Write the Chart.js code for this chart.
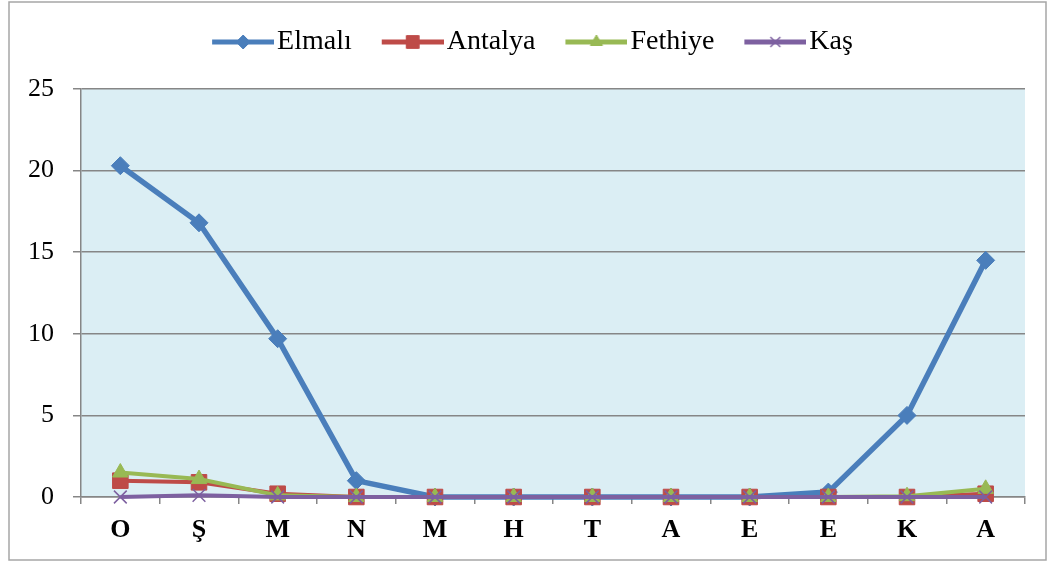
<!DOCTYPE html>
<html>
<head>
<meta charset="utf-8">
<script src="https://cdn.jsdelivr.net/npm/chart.js@4"></script>
<style>
  html, body { margin: 0; padding: 0; background: #fff; }
  #wrap { width: 1052px; height: 563px; position: relative; }
</style>
</head>
<body>
<div id="wrap"><canvas id="grafico" width="1052" height="563"></canvas></div>
<script>
// aylar (baş harfleri)
const aylar = ['O', 'Ş', 'M', 'N', 'M', 'H', 'T', 'A', 'E', 'E', 'K', 'A'];
const elmali = [20.3, 16.8, 9.7, 1.0, 0, 0, 0, 0, 0, 0.3, 5.0, 14.5];
const antalya = [1.0, 0.9, 0.2, 0, 0, 0, 0, 0, 0, 0, 0, 0.2];
const fethiye = [1.5, 1.1, 0.1, 0, 0, 0, 0, 0, 0, 0, 0.05, 0.5];
const kas = [0, 0.1, 0, 0, 0, 0, 0, 0, 0, 0, 0, 0];
const yTicks = [0, 5, 10, 15, 20, 25];

const serif = "'Liberation Serif', 'Times New Roman', serif";

// legend icon: line + marker like excel. left 11px of the image is empty so the
// line starts at the item x and the text sits right after it
function legendIcon(color, style, r) {
	const c = document.createElement('canvas');
	c.width = 73; c.height = 22;
	const ctx = c.getContext('2d');
	ctx.strokeStyle = color;
	ctx.lineWidth = 5;
	ctx.beginPath(); ctx.moveTo(11, 11); ctx.lineTo(73, 11); ctx.stroke();
	ctx.fillStyle = color;
	ctx.lineWidth = style == 'crossRot' ? 1.5 : 1;
	Chart.helpers.drawPoint(ctx, { pointStyle: style, radius: r, borderWidth: ctx.lineWidth, rotation: 0 }, 42, 11);
	return c;
}

// fundo azul da area do grafico + moldura
const fundo = {
	id: 'fundo',
	beforeUpdate(chart) {
		// legenda com altura fixa, assim o grafico começa em y=89
		const lg = chart.legend;
		if (lg && !lg._fixado) {
			const orig = lg.fit;
			lg.fit = function () { orig.call(this); this.height = 89; };
			lg._fixado = true;
		}
	},
	afterLayout(chart) {
		const lg = chart.legend;
		if (!lg) return;
		lg.top = -2;
		lg.left += 20;
		lg.right += 20;
	},
	beforeDraw(chart) {
		const { ctx, chartArea: a } = chart;
		ctx.save();
		ctx.fillStyle = '#DBEEF4';
		ctx.fillRect(a.left, a.top, a.right - a.left, a.bottom - a.top);
		ctx.strokeStyle = '#A6A6A6';
		ctx.lineWidth = 1.5;
		ctx.strokeRect(9, 2, 1037, 558);
		ctx.restore();
	}
};

function serie(label, data, color, style, r, ordem, lw) {
	return {
		label: label,
		data: data,
		borderColor: color,
		backgroundColor: color,
		borderWidth: lw,
		pointStyle: style,
		pointRadius: r,
		pointHoverRadius: r,
		pointBorderWidth: style == 'crossRot' ? 1.5 : 1,
		tension: 0,
		clip: false,
		order: ordem,
		icon: legendIcon(color, style, style == 'rect' ? 9 : 7)
	};
}

const grafico = document.getElementById('grafico').getContext('2d');
const myChart = new Chart(grafico, {
	type: 'line',
	data: {
		labels: aylar,
		datasets: [
			serie('Elmalı', elmali, '#4A7EBB', 'rectRot', 9, 4, 5.5),
			serie('Antalya', antalya, '#BE4B48', 'rect', 11, 3, 4),
			serie('Fethiye', fethiye, '#98B954', 'triangle', 9, 2, 4),
			serie('Kaş', kas, '#7D60A0', 'crossRot', 9, 1, 4)
		]
	},
	options: {
		responsive: false,
		animation: false,
		layout: { padding: { top: 0, right: 27, left: 0, bottom: 0 } },
		plugins: {
			tooltip: { enabled: false },
			legend: {
				labels: {
					usePointStyle: true,
					boxWidth: 51,
					boxHeight: 22,
					pointStyleWidth: 51,
					padding: 30,
					color: '#000',
					font: { family: serif, size: 28 },
					sort: (a, b) => a.datasetIndex - b.datasetIndex,
					generateLabels(chart) {
						return chart.data.datasets.map((ds, i) => ({
							text: ds.label,
							pointStyle: ds.icon,
							datasetIndex: i,
							fillStyle: ds.backgroundColor,
							strokeStyle: ds.borderColor,
							lineWidth: 0,
							fontColor: '#000'
						}));
					}
				}
			}
		},
		scales: {
			x: {
				offset: true,
				afterFit(s) { s.height = 66; },
				grid: { offset: true, drawOnChartArea: false, drawTicks: true, tickLength: 7, color: '#868686', lineWidth: 1.5 },
				border: { color: '#868686', width: 1.5 },
				ticks: { color: '#000', padding: 11, font: { family: serif, size: 26, weight: 'bold' } }
			},
			y: {
				min: 0,
				max: 25,
				afterFit(s) { s.width = 81; },
				afterBuildTicks(s) { s.ticks = yTicks.map(v => ({ value: v })); },
				grid: { color: '#868686', lineWidth: 1.5, tickLength: 8 },
				border: { color: '#868686', width: 1.5 },
				ticks: { color: '#000', padding: 19, font: { family: serif, size: 26 } }
			}
		}
	},
	plugins: [fundo]
});
</script>
</body>
</html>
